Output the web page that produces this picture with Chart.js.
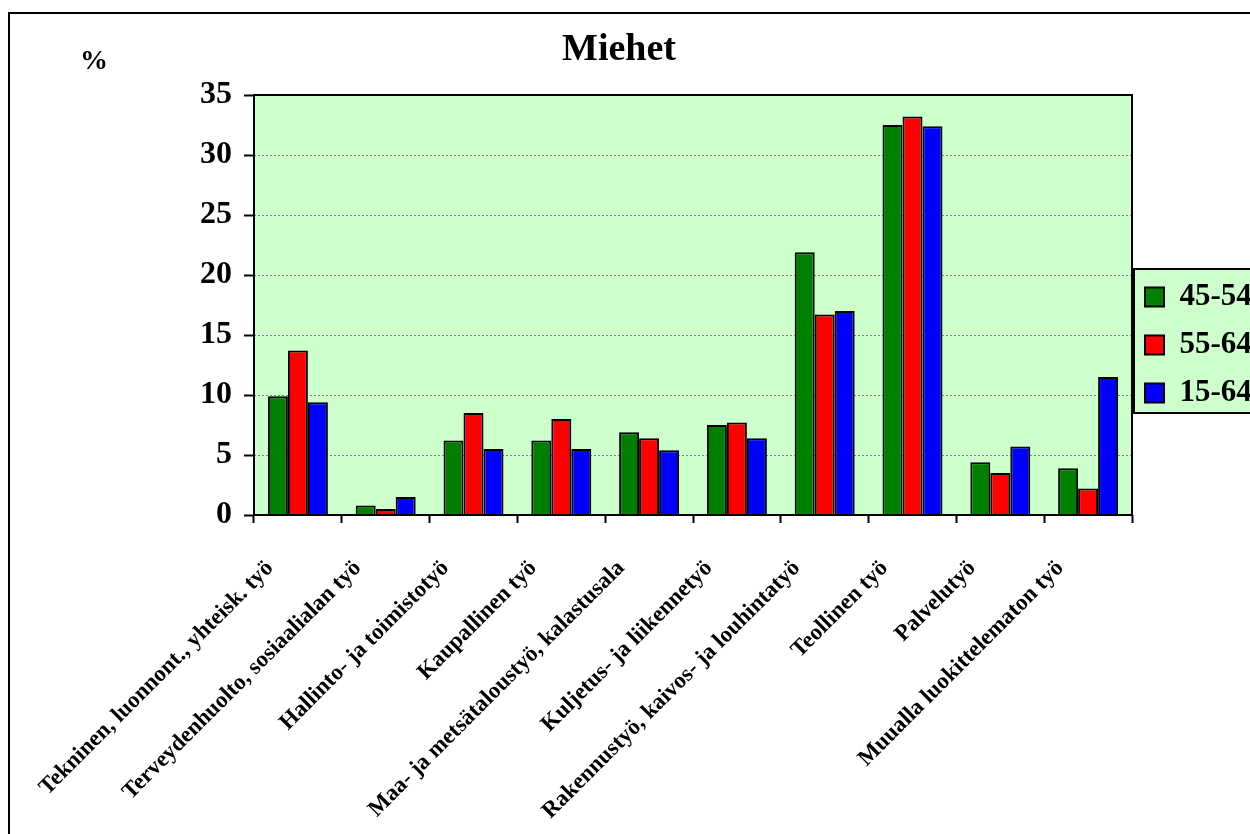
<!DOCTYPE html>
<html>
<head>
<meta charset="utf-8">
<script src="https://cdn.jsdelivr.net/npm/chart.js@4.4.1/dist/chart.umd.min.js"></script>
<style>
  body { margin: 0; background: #ffffff; }
  #wrap { width: 1250px; height: 834px; position: relative; }
</style>
</head>
<body>
<div id="wrap"><canvas id="miehetChart"></canvas></div>
<script>
const categories = [
  "Tekninen, luonnont., yhteisk. työ",
  "Terveydenhuolto, sosiaalialan työ",
  "Hallinto- ja toimistotyö",
  "Kaupallinen työ",
  "Maa- ja metsätaloustyö, kalastusala",
  "Kuljetus- ja liikennetyö",
  "Rakennustyö, kaivos- ja louhintatyö",
  "Teollinen työ",
  "Palvelutyö",
  "Muualla luokittelematon työ",
];
const age4554 = [9.9, 0.8, 6.2, 6.2, 6.9, 7.5, 21.9, 32.5, 4.4, 3.9];
const age5564 = [13.7, 0.5, 8.5, 8.0, 6.4, 7.7, 16.7, 33.2, 3.5, 2.2];
const age1564 = [9.4, 1.5, 5.5, 5.5, 5.4, 6.4, 17.0, 32.4, 5.7, 11.5];
const seriesNames = ["45-54", "55-64", "15-64"];
const yTicks = [0, 5, 10, 15, 20, 25, 30, 35];

const serif = "'Liberation Serif', 'Times New Roman', serif";
const plotBg = "#CCFFCC";

// frame, plot background, legend box and the "%" label
const decorations = {
  id: "decorations",
  afterLayout(chart) {
    const lg = chart.legend;
    lg.left = 1128;
    lg.right = 1250;
    lg.top = 264.5;
    lg.bottom = 440;
    lg.width = lg.right - lg.left;
    lg.height = lg.bottom - lg.top;
    const tb = chart.titleBlock;
    tb.left = 0;
    tb.right = 1238;
    tb.width = 1238;
  },
  beforeDraw(chart) {
    const { ctx, chartArea } = chart;
    ctx.save();
    ctx.fillStyle = "#ffffff";
    ctx.fillRect(0, 0, chart.width, chart.height);
    ctx.strokeStyle = "#000000";
    ctx.lineWidth = 2;
    ctx.strokeRect(9, 13, 1400, 1000);
    ctx.fillStyle = plotBg;
    ctx.fillRect(chartArea.left, chartArea.top, chartArea.right - chartArea.left, chartArea.bottom - chartArea.top);
    ctx.fillRect(1134, 269, 200, 144);
    ctx.strokeRect(1134, 269, 200, 144);
    ctx.fillStyle = "#000000";
    ctx.font = "bold 28px " + serif;
    ctx.textAlign = "center";
    ctx.textBaseline = "middle";
    ctx.fillText("%", 94, 62);
    ctx.restore();
  },
  afterDraw(chart) {
    const { ctx, chartArea } = chart;
    ctx.save();
    ctx.strokeStyle = "#000000";
    ctx.lineWidth = 2;
    ctx.strokeRect(chartArea.left, chartArea.top, chartArea.right - chartArea.left, chartArea.bottom - chartArea.top);
    ctx.restore();
  },
};

const ctx = document.getElementById("miehetChart").getContext("2d");

new Chart(ctx, {
  type: "bar",
  data: {
    labels: categories,
    datasets: [
      { label: seriesNames[0], data: age4554, backgroundColor: "#008000" },
      { label: seriesNames[1], data: age5564, backgroundColor: "#FF0000" },
      { label: seriesNames[2], data: age1564, backgroundColor: "#0000FF" },
    ].map((d) => ({
      ...d,
      borderColor: "#000000",
      borderWidth: 2,
      categoryPercentage: 0.683,
      barPercentage: 1.0,
    })),
  },
  options: {
    responsive: true,
    maintainAspectRatio: false,
    animation: false,
    layout: { padding: { top: 0, left: 0, right: 118, bottom: 0 } },
    scales: {
      x: {
        afterFit: (scale) => { scale.height = 319; },
        grid: {
          offset: true,
          drawOnChartArea: false,
          drawTicks: true,
          tickLength: 8,
          tickColor: "#000000",
          tickWidth: 2,
        },
        border: { display: false },
        ticks: {
          autoSkip: false,
          minRotation: 45,
          maxRotation: 45,
          labelOffset: -28,
          padding: 32,
          color: "#000000",
          font: { family: serif, size: 23, weight: "bold" },
        },
      },
      y: {
        min: 0,
        max: 35,
        afterFit: (scale) => { scale.width = 254; },
        afterBuildTicks: (scale) => {
          scale.ticks = yTicks.map((v) => ({ value: v }));
        },
        grid: {
          color: "#7f7f7f",
          lineWidth: 1,
          tickLength: 10,
          tickColor: "#000000",
          tickWidth: 2,
          tickBorderDash: [],
        },
        border: { display: false, dash: [2, 2] },
        ticks: {
          padding: 12,
          color: "#000000",
          font: { family: serif, size: 32, weight: "bold" },
        },
      },
    },
    plugins: {
      title: {
        display: true,
        text: "Miehet",
        color: "#000000",
        font: { family: serif, size: 38, weight: "bold" },
        padding: { top: 27, bottom: 22.4 },
      },
      legend: {
        display: true,
        position: "chartArea",
        align: "start",
        labels: {
          boxWidth: 19,
          boxHeight: 19,
          padding: 17,
          color: "#000000",
          font: { family: serif, size: 31, weight: "bold" },
        },
      },
      tooltip: { enabled: false },
    },
  },
  plugins: [decorations],
});
</script>
</body>
</html>
